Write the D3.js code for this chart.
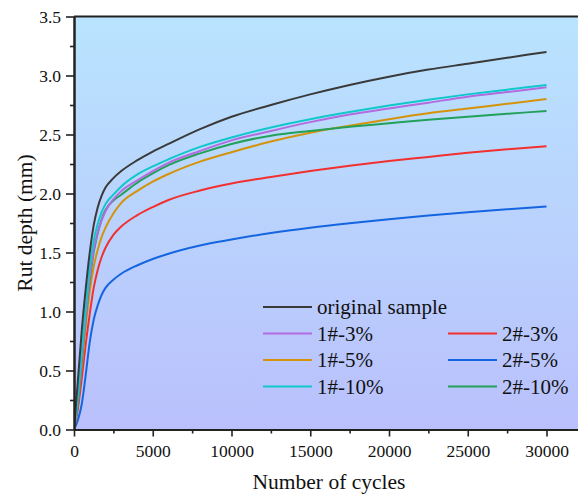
<!DOCTYPE html>
<html>
<head>
<meta charset="utf-8">
<script src="https://cdn.jsdelivr.net/npm/d3@7/dist/d3.min.js"></script>
<style>
  body { margin: 0; background: #fff; }
  svg text { font-family: "Liberation Serif", "Times New Roman", serif; }
</style>
</head>
<body>
<div id="canvas"></div>
<script>
var cycles = [0, 250, 500, 750, 1000, 1250, 1500, 1750, 2000, 2500, 3000, 4000, 5000, 6000,
              8000, 10000, 12500, 15000, 17500, 20000, 22500, 25000, 27500, 30000];

var original = [0, 0.42, 0.85, 1.20, 1.50, 1.73, 1.88, 1.98, 2.05, 2.13, 2.19, 2.28, 2.355, 2.42,
                2.545, 2.65, 2.75, 2.84, 2.92, 2.99, 3.05, 3.10, 3.15, 3.20];
var s1_3  = [0, 0.27, 0.62, 0.98, 1.30, 1.52, 1.67, 1.77, 1.85, 1.95, 2.02, 2.11, 2.19, 2.26,
             2.36, 2.45, 2.53, 2.605, 2.67, 2.72, 2.77, 2.82, 2.86, 2.90];
var s1_5  = [0, 0.24, 0.55, 0.88, 1.17, 1.38, 1.52, 1.63, 1.71, 1.83, 1.92, 2.02, 2.10, 2.165,
             2.27, 2.35, 2.44, 2.515, 2.575, 2.63, 2.68, 2.72, 2.76, 2.80];
var s1_10 = [0, 0.30, 0.68, 1.05, 1.38, 1.60, 1.74, 1.84, 1.91, 1.99, 2.06, 2.16, 2.23, 2.29,
             2.395, 2.475, 2.56, 2.63, 2.69, 2.745, 2.795, 2.84, 2.88, 2.92];
var s2_3  = [0, 0.18, 0.44, 0.73, 0.98, 1.20, 1.35, 1.46, 1.54, 1.65, 1.72, 1.815, 1.885, 1.945,
             2.025, 2.085, 2.14, 2.19, 2.235, 2.275, 2.31, 2.345, 2.375, 2.40];
var s2_5  = [0, 0.08, 0.22, 0.47, 0.74, 0.93, 1.05, 1.14, 1.20, 1.27, 1.32, 1.39, 1.445, 1.49,
             1.56, 1.61, 1.665, 1.71, 1.748, 1.782, 1.813, 1.841, 1.866, 1.89];
var s2_10 = [0, 0.22, 0.58, 0.95, 1.26, 1.50, 1.66, 1.78, 1.86, 1.94, 1.99, 2.09, 2.17, 2.24,
             2.34, 2.42, 2.49, 2.53, 2.565, 2.595, 2.625, 2.65, 2.675, 2.70];

var seriesNames = ["original sample", "1#-3%", "2#-3%", "1#-5%", "2#-5%", "1#-10%", "2#-10%"];
var seriesValues = [original, s1_3, s2_3, s1_5, s2_5, s1_10, s2_10];
var seriesColors = ["#3a3a3a", "#b36be0", "#f2302f", "#d4930a", "#1565e0", "#10c8cc", "#23a05a"];

var yTicks = [0, 0.5, 1.0, 1.5, 2.0, 2.5, 3.0, 3.5];
var xTicks = [0, 5000, 10000, 15000, 20000, 25000, 30000];

var W = 578, H = 495;
var margin = {top: 16.5, right: 0, bottom: 65.5, left: 74};
var width = W - margin.left - margin.right;
var height = H - margin.top - margin.bottom;
var serif = "Liberation Serif, Times New Roman, serif";

var svg = d3.select("#canvas").append("svg")
    .attr("width", W)
    .attr("height", H)
    .attr("font-family", serif);

var defs = svg.append("defs");
var grad = defs.append("linearGradient")
    .attr("id", "bg")
    .attr("x1", 0).attr("y1", 0).attr("x2", 0).attr("y2", 1);
grad.append("stop").attr("offset", "0%").attr("stop-color", "#b9e4fe");
grad.append("stop").attr("offset", "100%").attr("stop-color", "#bac0fc");

var clip = defs.append("clipPath").attr("id", "clip");
clip.append("rect").attr("width", width).attr("height", height);

var g = svg.append("g")
    .attr("transform", "translate(" + margin.left + "," + margin.top + ")");

var x = d3.scaleLinear().domain([0, 32000]).range([0, width]);
var y = d3.scaleLinear().domain([0, 3.5]).range([height, 0]);

g.append("rect")
    .attr("width", width)
    .attr("height", height)
    .attr("fill", "url(#bg)");

// curves
var line = d3.line()
    .x(function(d, i) { return x(cycles[i]); })
    .y(function(d) { return y(d); })
    .curve(d3.curveMonotoneX);

var curves = g.append("g").attr("clip-path", "url(#clip)");
// draw back to front so black and cyan sit on top
var order = [4, 2, 3, 6, 1, 5, 0];
order.forEach(function(k) {
  curves.append("path")
      .datum(seriesValues[k])
      .attr("fill", "none")
      .attr("stroke", seriesColors[k])
      .attr("stroke-width", 2)
      .attr("d", line);
});

// axes
var axisColor = "#222";

var xAxis = g.append("g")
    .attr("transform", "translate(0," + height + ")")
    .call(d3.axisBottom(x).tickValues(xTicks).tickSize(7).tickSizeOuter(0).tickPadding(8.5).tickFormat(d3.format("d")));
var xMinor = g.append("g")
    .attr("transform", "translate(0," + height + ")")
    .call(d3.axisBottom(x).tickValues(d3.range(2500, 32000, 5000)).tickSize(4).tickSizeOuter(0).tickFormat(""));

var yAxis = g.append("g")
    .call(d3.axisLeft(y).tickValues(yTicks).tickSize(8).tickSizeOuter(0).tickPadding(5).tickFormat(d3.format(".1f")));
var yMinor = g.append("g")
    .call(d3.axisLeft(y).tickValues(d3.range(0.25, 3.5, 0.5)).tickSize(4).tickSizeOuter(0).tickFormat(""));

[xAxis, xMinor, yAxis, yMinor].forEach(function(a) {
  a.attr("font-family", serif).attr("font-size", 17.5);
  a.selectAll("path").attr("stroke", axisColor).attr("stroke-width", 2);
  a.selectAll("line").attr("stroke", axisColor).attr("stroke-width", 1.6);
  a.selectAll("text").attr("fill", "#111");
});

// top frame line
g.append("line")
    .attr("x1", 0).attr("x2", width)
    .attr("y1", 0).attr("y2", 0)
    .attr("stroke", axisColor)
    .attr("stroke-width", 2);

// axis titles
svg.append("text")
    .attr("x", 329)
    .attr("y", 489)
    .attr("text-anchor", "middle")
    .attr("fill", "#111")
    .attr("font-size", 21.5)
    .text("Number of cycles");

svg.append("text")
    .attr("transform", "translate(32," + (margin.top + height / 2) + ") rotate(-90)")
    .attr("text-anchor", "middle")
    .attr("fill", "#111")
    .attr("font-size", 21.5)
    .text("Rut depth (mm)");

// legend
var legendRows = [
  {i: 0, col: 0, row: 0},
  {i: 1, col: 0, row: 1},
  {i: 2, col: 1, row: 1},
  {i: 3, col: 0, row: 2},
  {i: 4, col: 1, row: 2},
  {i: 5, col: 0, row: 3},
  {i: 6, col: 1, row: 3}
];
var legend = svg.append("g");
legendRows.forEach(function(r) {
  var lx = r.col === 0 ? 263 : 448;
  var ly = 307 + r.row * 26.5;
  legend.append("line")
      .attr("x1", lx).attr("x2", lx + 49)
      .attr("y1", ly).attr("y2", ly)
      .attr("stroke", seriesColors[r.i])
      .attr("stroke-width", 2);
  legend.append("text")
      .attr("x", lx + 54)
      .attr("y", ly + 7)
      .attr("fill", "#111")
      .attr("font-size", 21)
      .text(seriesNames[r.i]);
});
</script>
</body>
</html>
